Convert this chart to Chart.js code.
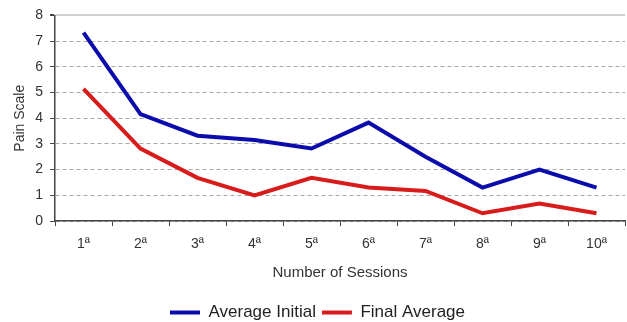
<!DOCTYPE html>
<html>
<head>
<meta charset="utf-8">
<script src="https://cdn.jsdelivr.net/npm/chart.js@4"></script>
<style>
  html, body { margin: 0; padding: 0; background: #fff; overflow: hidden; }
  #wrap { width: 627px; height: 331px; }
</style>
</head>
<body>
<div id="wrap"><canvas id="painChart"></canvas></div>
<script>
const sessions = ["1ª", "2ª", "3ª", "4ª", "5ª", "6ª", "7ª", "8ª", "9ª", "10ª"];
const averageInitial = [7.33, 4.16, 3.32, 3.15, 2.82, 3.83, 2.5, 1.3, 2.0, 1.3];
const finalAverage = [5.14, 2.82, 1.68, 1.0, 1.68, 1.3, 1.17, 0.3, 0.68, 0.3];
const yTicks = [0, 1, 2, 3, 4, 5, 6, 7, 8];

const font = "'Liberation Sans', Arial, sans-serif";

const ctx = document.getElementById("painChart").getContext("2d");

new Chart(ctx, {
  type: "line",
  data: {
    labels: sessions,
    datasets: [
      {
        label: "Average Initial",
        data: averageInitial,
        borderColor: "#0c0cad",
        backgroundColor: "#0c0cad",
        borderWidth: 4,
        pointRadius: 0,
        tension: 0
      },
      {
        label: "Final Average",
        data: finalAverage,
        borderColor: "#d81c1c",
        backgroundColor: "#d81c1c",
        borderWidth: 4,
        pointRadius: 0,
        tension: 0
      }
    ]
  },
  options: {
    responsive: true,
    maintainAspectRatio: false,
    animation: false,
    layout: { padding: { left: 10, right: 2, top: 13, bottom: 0 } },
    plugins: {
      tooltip: { enabled: false },
      legend: {
        position: "bottom",
        labels: {
          usePointStyle: true,
          pointStyle: "line",
          pointStyleWidth: 30,
          boxHeight: 4,
          padding: 6,
          color: "#222",
          font: { family: font, size: 17 }
        }
      }
    },
    scales: {
      x: {
        offset: true,
        grid: {
          offset: true,
          drawOnChartArea: false,
          tickLength: 5,
          tickColor: "#444"
        },
        border: { color: "#444", width: 1.5 },
        ticks: { color: "#333", padding: 10, font: { family: font, size: 14 } },
        title: {
          display: true,
          text: "Number of Sessions",
          color: "#333",
          padding: { top: 0, bottom: 16 },
          font: { family: font, size: 15 }
        },
        afterFit: scale => { scale.height = 77; }
      },
      y: {
        min: 0,
        max: 8,
        afterBuildTicks: scale => { scale.ticks = yTicks.map(v => ({ value: v })); },
        grid: {
          color: c => c.tick.value === 8 ? "#cfcfcf" : "#a8a8a8",
          lineWidth: c => c.tick.value === 8 ? 2 : 1,
          tickLength: 5,
          tickColor: "#444"
        },
        border: {
          color: "#444",
          width: 1.5,
          dash: c => c.tick && c.tick.value === 8 ? [] : [4, 3]
        },
        ticks: { color: "#333", padding: 7, font: { family: font, size: 14 } },
        title: {
          display: true,
          text: "Pain Scale",
          color: "#333",
          padding: { top: 2, bottom: 0 },
          font: { family: font, size: 14 }
        },
        afterFit: scale => { scale.width = 45; }
      }
    }
  }
});
</script>
</body>
</html>
